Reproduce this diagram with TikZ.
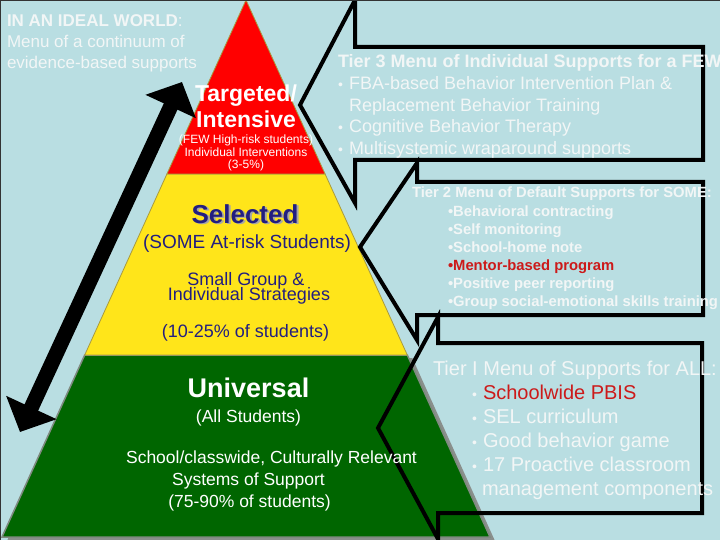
\documentclass[tikz,border=0pt]{standalone}
\usepackage{fontspec}
\setmainfont{Liberation Sans}
\usetikzlibrary{arrows.meta}
\definecolor{bgblue}{HTML}{B9DEE2}
\definecolor{pred}{HTML}{FF0000}
\definecolor{pyellow}{HTML}{FFE51A}
\definecolor{pgreen}{HTML}{006600}
\definecolor{shadowgray}{HTML}{8A8F8C}
\definecolor{edgegray}{HTML}{7F8A80}
\definecolor{olive}{HTML}{A89A40}
\definecolor{lighttext}{HTML}{F2F6F6}
\definecolor{navytext}{HTML}{221E80}
\definecolor{redtext}{HTML}{CC1A1A}
\newcommand{\myfs}[1]{\fontsize{#1}{#1}\selectfont}
\newcommand{\smallbul}{\makebox[11pt][l]{\myfs{14}\textbullet}}
\begin{document}
\begin{tikzpicture}[x=1pt,y=-1pt,
  txt/.style={inner sep=0pt, outer sep=0pt},
  lt/.style={txt, text=lighttext},
  nv/.style={txt, text=navytext},
  wt/.style={txt, text=white},
  callout/.style={draw=black, line width=4pt, miter limit=20},
  dblarrow/.style={draw=black, line width=15pt,
    {Triangle[width=54pt,length=27pt]}-{Triangle[width=54pt,length=27pt]}}]
\useasboundingbox (0,0) rectangle (720,540);
\fill[bgblue] (0,0) rectangle (720,540);
\begin{scope}
\clip (0,0) rectangle (720,540);
% pyramid
\fill[shadowgray] (89.7,358) -- (412.3,358) -- (495,541) -- (7,541) -- cycle;
\filldraw[fill=pgreen, draw=edgegray, line width=1.5pt] (84.7,355) -- (407.3,355) -- (490,537) -- (2,537) -- cycle;
\filldraw[fill=pyellow, draw=olive, line width=0.8pt] (166.9,174) -- (325.1,174) -- (407.3,355) -- (84.7,355) -- cycle;
\filldraw[fill=pred, draw=olive, line width=0.8pt] (246,0) -- (325.1,174) -- (166.9,174) -- cycle;
% double arrow
\coordinate (arrBot) at (20,432);
\coordinate (arrTop) at (182,82);
\draw[dblarrow] (arrBot) -- (arrTop);
% callouts
\draw[callout] (355,0) -- (355,47) -- (703,47) -- (703,160) -- (355,160) -- (355,203) -- (300,105) -- cycle;
\draw[callout] (417,163) -- (417,182) -- (703,182) -- (703,315) -- (417,315) -- (417,340) -- (360,247) -- cycle;
\draw[callout] (438,317) -- (438,343) -- (702,343) -- (702,513) -- (438,513) -- (438,539) -- (378,428) -- cycle;
% top-left text
\node[lt, anchor=base west] (ideal1) at (7,27) {\myfs{17}\textbf{IN AN IDEAL WORLD}:};
\node[lt, anchor=base west] (ideal2) at (7,48) {\myfs{17}Menu of a continuum of};
\node[lt, anchor=base west] (ideal3) at (7,69) {\myfs{17}evidence-based supports};
% red tier
\node[wt, anchor=base] (targ1) at (246,102) {\myfs{23}\textbf{Targeted/}};
\node[wt, anchor=base] (targ2) at (246,128) {\myfs{23}\textbf{Intensive}};
\node[wt, anchor=base] (targ3) at (246,143.5) {\myfs{12}(FEW High-risk students)};
\node[wt, anchor=base] (targ4) at (246,156.5) {\myfs{12}Individual Interventions};
\node[wt, anchor=base] (targ5) at (246,169) {\myfs{12}(3-5\%)};
% yellow tier
\node[txt, text=gray!70, anchor=base] (selsh) at (247,225) {\myfs{26}\textbf{Selected}};
\node[nv, anchor=base] (sel1) at (245,223) {\myfs{26}\textbf{Selected}};
\node[nv, anchor=base] (sel2) at (247,248) {\myfs{19}(SOME At-risk Students)};
\node[nv, anchor=base] (sel3) at (246,285) {\myfs{18}Small Group \&};
\node[nv, anchor=base] (sel4) at (249,300) {\myfs{18}Individual Strategies};
\node[nv, anchor=base] (sel5) at (245.5,337) {\myfs{18}(10-25\% of students)};
% green tier
\node[wt, anchor=base] (uni1) at (248.5,397) {\myfs{27}\textbf{Universal}};
\node[wt, anchor=base] (uni2) at (248.5,422) {\myfs{17.5}(All Students)};
\node[wt, anchor=base] (uni3) at (271.5,463) {\myfs{17.5}School/classwide, Culturally Relevant};
\node[wt, anchor=base] (uni4) at (248.5,485) {\myfs{17.5}Systems of Support};
\node[wt, anchor=base] (uni5) at (249.5,507) {\myfs{17.5}(75-90\% of students)};
% tier 3 menu
\node[lt, anchor=base west] (t3a) at (338,68) {\myfs{18}\textbf{Tier 3 Menu of Individual Supports for a FEW}};
\node[lt, anchor=base west] (t3b) at (338,90) {\myfs{18}\smallbul FBA-based Behavior Intervention Plan \&};
\node[lt, anchor=base west] (t3c) at (349,112) {\myfs{18}Replacement Behavior Training};
\node[lt, anchor=base west] (t3d) at (338,133) {\myfs{18}\smallbul Cognitive Behavior Therapy};
\node[lt, anchor=base west] (t3e) at (338,155) {\myfs{18}\smallbul Multisystemic wraparound supports};
% tier 2 menu
\node[lt, anchor=base west] (t2a) at (412,198) {\myfs{14.8}\textbf{Tier 2 Menu of Default Supports for SOME:}};
\node[lt, anchor=base west] (t2b) at (448,216) {\myfs{14.8}\textbf{\textbullet Behavioral contracting}};
\node[lt, anchor=base west] (t2c) at (448,234) {\myfs{14.8}\textbf{\textbullet Self monitoring}};
\node[lt, anchor=base west] (t2d) at (448,252) {\myfs{14.8}\textbf{\textbullet School-home note}};
\node[txt, text=redtext, anchor=base west] (t2e) at (448,270) {\myfs{14.8}\textbf{\textbullet Mentor-based program}};
\node[lt, anchor=base west] (t2f) at (448,288) {\myfs{14.8}\textbf{\textbullet Positive peer reporting}};
\node[lt, anchor=base west] (t2g) at (448,306) {\myfs{14.8}\textbf{\textbullet Group social-emotional skills training}};
% tier 1 menu
\node[lt, anchor=base west] (t1a) at (433,375) {\myfs{20}Tier I Menu of Supports for ALL:};
\node[lt, anchor=base west] (t1b) at (472,399) {\myfs{20}\smallbul\textcolor{redtext}{Schoolwide PBIS}};
\node[lt, anchor=base west] (t1c) at (472,423) {\myfs{20}\smallbul SEL curriculum};
\node[lt, anchor=base west] (t1d) at (472,447) {\myfs{20}\smallbul Good behavior game};
\node[lt, anchor=base west] (t1e) at (472,471) {\myfs{20}\smallbul 17 Proactive classroom};
\node[lt, anchor=base west] (t1f) at (482,495) {\myfs{20}management components};
% frame
\draw[black!80, line width=1.5pt] (0,540) -- (0,0) -- (720,0);
\end{scope}
\end{tikzpicture}
\end{document}
